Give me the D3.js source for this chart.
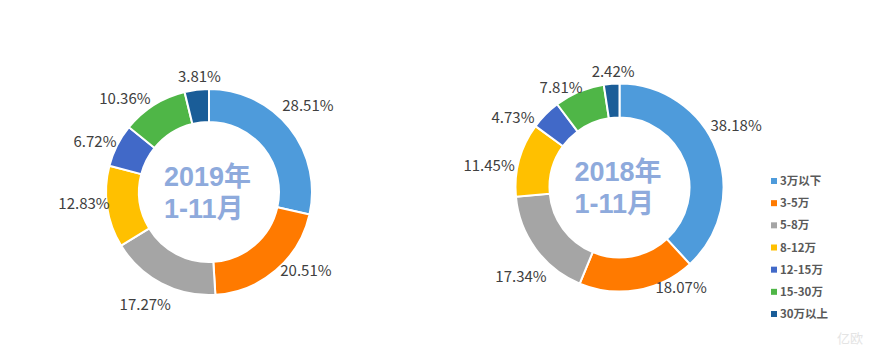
<!DOCTYPE html>
<html>
<head>
<meta charset="utf-8">
<script src="https://cdn.jsdelivr.net/npm/d3@7/dist/d3.min.js"></script>
<style>
  html, body { margin: 0; padding: 0; background: #fff; }
  svg { display: block; }
</style>
</head>
<body>
<svg id="chart" width="877" height="349"></svg>
<script>
// ---- data ----
const categories = ["3万以下", "3-5万", "5-8万", "8-12万", "12-15万", "15-30万", "30万以上"];
const values2019 = [28.51, 20.51, 17.27, 12.83, 6.72, 10.36, 3.81];
const values2018 = [38.18, 18.07, 17.34, 11.45, 4.73, 7.81, 2.42];
const titles = [["2019年", "1-11月"], ["2018年", "1-11月"]];
const colors = ["#4E9BDB", "#FF7A00", "#A5A5A5", "#FFC000", "#4169C8", "#4FB647", "#1A5D98"];

// ---- layout ----
const svg = d3.select("#chart");
const charts = [
  { values: values2019, title: titles[0], cx: 209, cy: 192, r: 103, ri: 70,
    nudge: [-2.3, -10.4, 2.1, 2.8, -3.2, -9.5, 2.1],
    lr: [131, 125, 129, 125.6, 124.5, 126, 115.4] },
  { values: values2018, title: titles[1], cx: 619.5, cy: 187.5, r: 104, ri: 70,
    nudge: [-6.7, -21.6, -5.8, -5.9, -11.4, -7.5, 1.2],
    lr: [132, 117.4, 132.8, 132.3, 127.4, 115.9, 116.2] }
];

const color = d3.scaleOrdinal().domain(categories).range(colors);
const pie = d3.pie().sort(null).value(d => d.v);

charts.forEach(c => {
  const data = categories.map((k, i) => ({ k, v: c.values[i], i }));
  const arcs = pie(data);
  const arc = d3.arc().innerRadius(c.ri).outerRadius(c.r);
  const g = svg.append("g").attr("transform", `translate(${c.cx},${c.cy})`);

  g.selectAll("path").data(arcs).join("path")
    .attr("d", arc)
    .attr("fill", d => color(d.data.k))
    .attr("stroke", "#fff")
    .attr("stroke-width", 2);

  g.selectAll("text.lbl").data(arcs).join("text")
    .attr("class", "lbl")
    .each(function(d, i) {
      const mid = (d.startAngle + d.endAngle) / 2 + c.nudge[i] * Math.PI / 180;
      const rr = c.lr[i];
      d3.select(this)
        .attr("x", rr * Math.sin(mid))
        .attr("y", -rr * Math.cos(mid));
    })
    .attr("text-anchor", "middle")
    .attr("dy", "0.36em")
    .attr("font-family", "'Noto Sans CJK SC', 'Noto Sans', sans-serif")
    .attr("font-size", 15)
    .attr("fill", "#404040")
    .text(d => d.data.v.toFixed(2) + "%");

  g.selectAll("text.ttl").data(c.title).join("text")
    .attr("class", "ttl")
    .attr("x", -45)
    .attr("y", (d, j) => -16 + j * 32)
    .attr("dy", "0.36em")
    .attr("font-family", "'Liberation Sans', 'Noto Sans CJK SC', sans-serif")
    .attr("font-weight", "bold")
    .attr("font-size", 27)
    .attr("fill", "#8EAADC")
    .text(d => d);
});

// ---- legend ----
const legend = svg.append("g").attr("transform", "translate(771,181)");
const ly = d3.scalePoint().domain(categories).range([0, 133]);
const items = legend.selectAll("g").data(categories).join("g")
  .attr("transform", d => `translate(0,${ly(d)})`);
items.append("rect")
  .attr("x", 0).attr("y", -3).attr("width", 6).attr("height", 6)
  .attr("fill", d => color(d));
items.append("text")
  .attr("x", 9).attr("dy", "0.36em")
  .attr("font-family", "'Noto Sans CJK SC', sans-serif")
  .attr("font-weight", "bold")
  .attr("font-size", 11.5)
  .attr("fill", "#595959")
  .text(d => d);

// ---- watermark ----
svg.append("text")
  .attr("x", 837).attr("y", 343)
  .attr("font-family", "'Noto Sans CJK SC', sans-serif")
  .attr("font-size", 13)
  .attr("fill", "#e4e4e4")
  .text("亿欧");
</script>
</body>
</html>
